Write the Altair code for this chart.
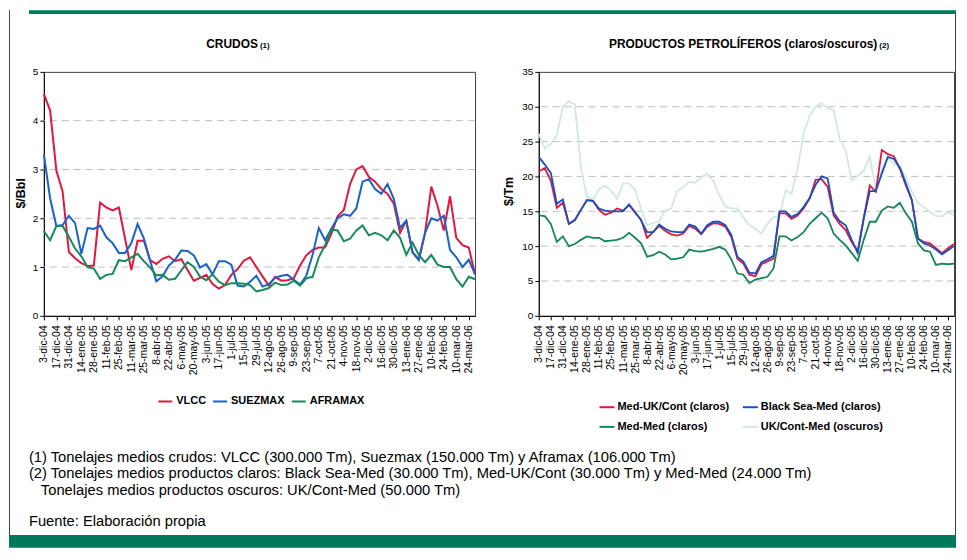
import datetime as dt
import pandas as pd
import altair as alt

FONT = "Liberation Sans"

# ---------------- categories ----------------
MESES = ["ene", "feb", "mar", "abr", "may", "jun", "jul", "ago", "sep", "oct", "nov", "dic"]
inicio = dt.date(2004, 12, 3)
fechas = []
for i in range(70):
    d = inicio + dt.timedelta(weeks=i)
    fechas.append(f"{d.day}-{MESES[d.month - 1]}-{d.year % 100:02d}")
etiquetas = fechas[::2]

# ---------------- CRUDOS ($/Bbl) ----------------
vlcc = [4.55, 4.21, 2.98, 2.55, 1.31, 1.18, 1.08, 1.02, 1.03, 2.32,
        2.22, 2.16, 2.22, 1.58, 0.94, 1.54, 1.54, 1.14, 1.06, 1.17,
        1.22, 1.12, 1.16, 0.94, 0.72, 0.78, 0.84, 0.65, 0.56, 0.63,
        0.84, 0.96, 1.13, 1.20, 1.00, 0.81, 0.62, 0.80, 0.72, 0.73,
        0.77, 1.03, 1.24, 1.35, 1.40, 1.40, 1.68, 2.04, 2.17, 2.70,
        3.00, 3.07, 2.85, 2.75, 2.60, 2.50, 2.30, 1.70, 1.95, 1.30,
        1.15, 1.70, 2.65, 2.25, 1.75, 2.45, 1.60, 1.45, 1.40, 0.85]
suezmax = [3.31, 2.41, 1.84, 1.86, 2.05, 1.90, 1.27, 1.80, 1.78, 1.85,
           1.61, 1.49, 1.29, 1.29, 1.49, 1.88, 1.59, 1.13, 0.71, 0.81,
           1.03, 1.15, 1.34, 1.33, 1.24, 0.99, 1.06, 0.85, 1.12, 1.12,
           1.05, 0.62, 0.60, 0.70, 0.82, 0.60, 0.65, 0.78, 0.82, 0.84,
           0.74, 0.64, 0.82, 1.25, 1.80, 1.55, 1.78, 2.00, 2.08, 2.05,
           2.20, 2.75, 2.80, 2.60, 2.50, 2.70, 2.40, 1.80, 1.95, 1.30,
           1.15, 1.70, 2.00, 1.95, 2.05, 1.35, 1.20, 1.00, 1.15, 0.85]
aframax = [1.74, 1.55, 1.84, 1.84, 1.62, 1.38, 1.22, 1.00, 0.97, 0.76,
           0.84, 0.86, 1.14, 1.12, 1.20, 1.27, 1.12, 0.99, 0.83, 0.84,
           0.74, 0.76, 0.93, 1.10, 1.00, 0.80, 0.73, 0.85, 0.70, 0.63,
           0.67, 0.67, 0.66, 0.63, 0.50, 0.53, 0.57, 0.68, 0.63, 0.64,
           0.72, 0.62, 0.77, 0.80, 1.20, 1.45, 1.77, 1.75, 1.53, 1.58,
           1.75, 1.85, 1.65, 1.70, 1.65, 1.55, 1.75, 1.60, 1.25, 1.50,
           1.25, 1.10, 1.25, 1.05, 1.00, 1.00, 0.75, 0.60, 0.80, 0.75]

# ---------------- PRODUCTOS ($/Tm) ----------------
med_uk = [20.7, 21.2, 19.4, 15.5, 16.2, 13.2, 13.8, 15.2, 16.6, 16.5,
          15.2, 14.5, 14.8, 15.4, 15.1, 15.9, 14.8, 13.8, 11.2, 12.0,
          12.9, 12.2, 11.7, 11.5, 11.8, 12.9, 12.5, 11.7, 12.8, 13.3,
          13.2, 12.8, 11.3, 8.2, 7.5, 5.9, 5.7, 7.4, 7.8, 8.2,
          14.7, 14.7, 13.9, 14.4, 15.4, 16.8, 19.5, 19.6, 18.5, 14.4,
          13.2, 12.3, 10.6, 9.3, 14.0, 18.7, 17.8, 23.8, 23.2, 22.9,
          21.1, 18.7, 16.6, 11.1, 10.6, 10.4, 9.7, 9.0, 9.7, 10.3]
black_sea = [22.8, 21.7, 20.5, 16.1, 16.7, 13.2, 13.7, 15.2, 16.6, 16.5,
             15.4, 15.1, 15.0, 15.0, 15.0, 16.0, 14.9, 13.7, 12.0, 12.0,
             13.1, 12.5, 12.1, 12.0, 12.0, 13.1, 12.8, 11.8, 13.0, 13.5,
             13.5, 13.0, 11.6, 8.5, 7.8, 6.2, 6.1, 7.7, 8.1, 8.6,
             15.0, 15.0, 14.2, 14.6, 15.6, 16.9, 18.8, 20.0, 19.7, 14.8,
             13.6, 13.0, 10.9, 9.0, 14.0, 17.9, 17.9, 20.4, 22.8, 22.5,
             21.3, 19.0, 16.6, 11.1, 10.4, 10.1, 9.5, 8.8, 9.4, 10.0]
med_med = [14.4, 14.3, 13.2, 10.6, 11.4, 10.0, 10.3, 10.9, 11.4, 11.2,
           11.2, 10.7, 10.8, 10.9, 11.2, 11.9, 11.2, 10.4, 8.5, 8.7,
           9.2, 8.8, 8.1, 8.2, 8.4, 9.5, 9.3, 9.2, 9.4, 9.6,
           9.9, 9.5, 8.1, 6.1, 5.9, 4.7, 5.2, 5.4, 5.6, 6.8,
           11.4, 11.4, 10.8, 11.3, 12.0, 13.2, 14.0, 14.8, 14.0, 11.8,
           10.9, 10.1, 9.0, 7.9, 10.9, 13.5, 13.5, 15.1, 15.7, 15.5,
           16.2, 14.7, 13.5, 10.4, 9.4, 9.2, 7.3, 7.5, 7.4, 7.5]
uk_med = [26.1, 24.0, 24.7, 25.9, 30.0, 30.8, 30.3, 21.3, 17.1, 16.6,
          18.2, 18.7, 18.0, 16.8, 19.0, 19.0, 18.1, 15.4, 13.0, 13.3,
          13.6, 15.1, 15.4, 17.9, 18.5, 19.2, 19.1, 19.9, 20.4, 19.4,
          17.3, 15.7, 15.4, 15.4, 14.2, 13.0, 12.5, 11.8, 13.2, 14.2,
          14.2, 18.0, 17.5, 21.1, 26.1, 28.7, 30.0, 30.5, 29.8, 29.5,
          25.4, 23.7, 19.4, 20.1, 20.8, 22.8, 18.2, 20.9, 22.7, 21.8,
          21.3, 19.9, 17.8, 16.2, 15.6, 14.9, 14.3, 14.3, 14.9, 14.4]

series_crudos = ["VLCC", "SUEZMAX", "AFRAMAX"]
colores_crudos = ["#E2163E", "#1763CB", "#168A5C"]
series_prod = ["Med-UK/Cont (claros)", "Black Sea-Med (claros)",
               "Med-Med (claros)", "UK/Cont-Med (oscuros)"]
colores_prod = ["#E2163E", "#1750C2", "#138558", "#D3E8E1"]

ticks_crudos = [0, 1, 2, 3, 4, 5]
ticks_prod = [0, 5, 10, 15, 20, 25, 30, 35]
grid_crudos = [1, 2, 3, 4]
grid_prod = [5, 10, 15, 20, 25, 30]

notas = [
    "(1) Tonelajes medios  crudos:  VLCC (300.000 Tm), Suezmax (150.000 Tm) y Aframax (106.000 Tm)",
    "(2) Tonelajes medios  productos claros: Black Sea-Med (30.000 Tm), Med-UK/Cont (30.000 Tm) y Med-Med (24.000 Tm)",
    "Tonelajes medios productos oscuros: UK/Cont-Med (50.000 Tm)",
    "Fuente: Elaboración propia",
]


def largo(series, valores):
    filas = []
    for s, v in zip(series, valores):
        for f, y in zip(fechas, v):
            filas.append({"fecha": f, "serie": s, "valor": y})
    return pd.DataFrame(filas)


df_c = largo(series_crudos, [vlcc, suezmax, aframax])
df_p = largo(series_prod, [med_uk, black_sea, med_med, uk_med])

W_L, W_R, H = 433, 417, 245
GREEN = "#007A5B"


def eje_x():
    return alt.Axis(values=etiquetas, title=None, labelAngle=-90, labelFont=FONT,
                    labelFontSize=10.5, labelColor="black", labelPadding=5,
                    labelOverlap=False, tickSize=4, tickColor="black",
                    domainColor="black", domainWidth=1, grid=False)


def eje_y(vals):
    return alt.Axis(values=vals, title=None, labelFont=FONT, labelFontSize=10,
                    labelColor="black", labelPadding=2, tickSize=4, tickColor="black",
                    labelOverlap=False, domainColor="black", domainWidth=1, grid=False)


def xenc():
    return alt.X("fecha:O", sort=fechas, scale=alt.Scale(type="point", padding=0), axis=eje_x())


def yenc(campo, dom, vals):
    return alt.Y(campo, scale=alt.Scale(domain=dom, nice=False), axis=eje_y(vals))


def dummy():
    return alt.Chart(alt.Data(values=[{}]))


def texto(t, x, y, size=12, weight="normal", align="left", baseline="middle", angle=0):
    return dummy().mark_text(text=t, font=FONT, fontSize=size, fontWeight=weight, align=align,
                             baseline=baseline, angle=angle, color="black").encode(
        x=alt.value(x), y=alt.value(y))


# ---------------- left panel ----------------
rejilla_c = alt.Chart(pd.DataFrame({"valor": grid_crudos})).mark_rule(
    color="#BDBDBD", strokeDash=[7, 5], strokeWidth=1).encode(
    y=yenc("valor:Q", [0, 5], ticks_crudos))

lineas_c = alt.Chart(df_c).mark_line(strokeWidth=2).encode(
    x=xenc(),
    y=yenc("valor:Q", [0, 5], ticks_crudos),
    color=alt.Color("serie:N", scale=alt.Scale(domain=series_crudos, range=colores_crudos),
                    legend=alt.Legend(orient="none", legendX=114, legendY=323, direction="horizontal",
                                      columns=3, title=None, symbolType="stroke", symbolSize=196,
                                      symbolStrokeWidth=2, labelFont=FONT, labelFontSize=11,
                                      labelFontWeight="bold", labelColor="black", labelOffset=3,
                                      columnPadding=3, padding=0)),
)

deco = [
    dummy().mark_rect(color=GREEN).encode(x=alt.value(-15), x2=alt.value(916),
                                          y=alt.value(-62), y2=alt.value(-58)),
    dummy().mark_rect(color=GREEN).encode(x=alt.value(-35), x2=alt.value(916),
                                          y=alt.value(465), y2=alt.value(478)),
    dummy().mark_rule(color="#404040", strokeWidth=1).encode(x=alt.value(-34.5), y=alt.value(-62),
                                                             y2=alt.value(465)),
    dummy().mark_rule(color="#404040", strokeWidth=1).encode(x=alt.value(915.5), y=alt.value(-58),
                                                             y2=alt.value(465)),
    texto("CRUDOS", 215, -24, size=12, weight="bold", align="right", baseline="alphabetic"),
    texto("(1)", 217, -24, size=8, weight="bold", baseline="alphabetic"),
    texto("$/Bbl", -23, 122, size=12.5, weight="bold", align="center", angle=270),
    texto(notas[0], -15, 388, size=14.8),
    texto(notas[1], -15, 404, size=14.8),
    texto(notas[2], -3, 421, size=14.8),
    texto(notas[3], -15, 452, size=14.8),
]

izq = alt.layer(rejilla_c, lineas_c, *deco).properties(width=W_L, height=H)

# ---------------- right panel ----------------
rejilla_p = alt.Chart(pd.DataFrame({"valor": grid_prod})).mark_rule(
    color="#BDBDBD", strokeDash=[7, 5], strokeWidth=1).encode(
    y=yenc("valor:Q", [0, 35], ticks_prod))

base_p = alt.Chart(df_p).encode(
    x=xenc(),
    y=yenc("valor:Q", [0, 35], ticks_prod),
    color=alt.Color("serie:N", scale=alt.Scale(domain=series_prod, range=colores_prod),
                    legend=alt.Legend(orient="none", legendX=60, legendY=328, direction="horizontal",
                                      columns=2, title=None, symbolType="stroke", symbolSize=225,
                                      symbolStrokeWidth=2, labelFont=FONT, labelFontSize=11,
                                      labelFontWeight="bold", labelColor="black", labelOffset=2,
                                      columnPadding=9, rowPadding=6, padding=0)),
)
oscuros = base_p.transform_filter(alt.datum.serie == series_prod[3]).mark_line(strokeWidth=1.8)
claros = base_p.transform_filter(
    alt.FieldOneOfPredicate(field="serie", oneOf=series_prod[:3])).mark_line(strokeWidth=1.8)

deco_p = [
    texto("PRODUCTOS PETROLÍFEROS (claros/oscuros)", 340, -24, size=12, weight="bold",
          align="right", baseline="alphabetic"),
    texto("(2)", 342, -24, size=8, weight="bold", baseline="alphabetic"),
    texto("$/Tm", -30, 120, size=12.5, weight="bold", align="center", angle=270),
]

der = alt.layer(rejilla_p, oscuros, claros, *deco_p).properties(width=W_R, height=H)

chart = alt.hconcat(izq, der, spacing=64, bounds="flush").resolve_scale(
    color="independent").properties(padding=0, background="white").configure_view(
    stroke="#404040", strokeWidth=1)

chart.save("out.html", embed_options={"renderer": "svg", "actions": False})
